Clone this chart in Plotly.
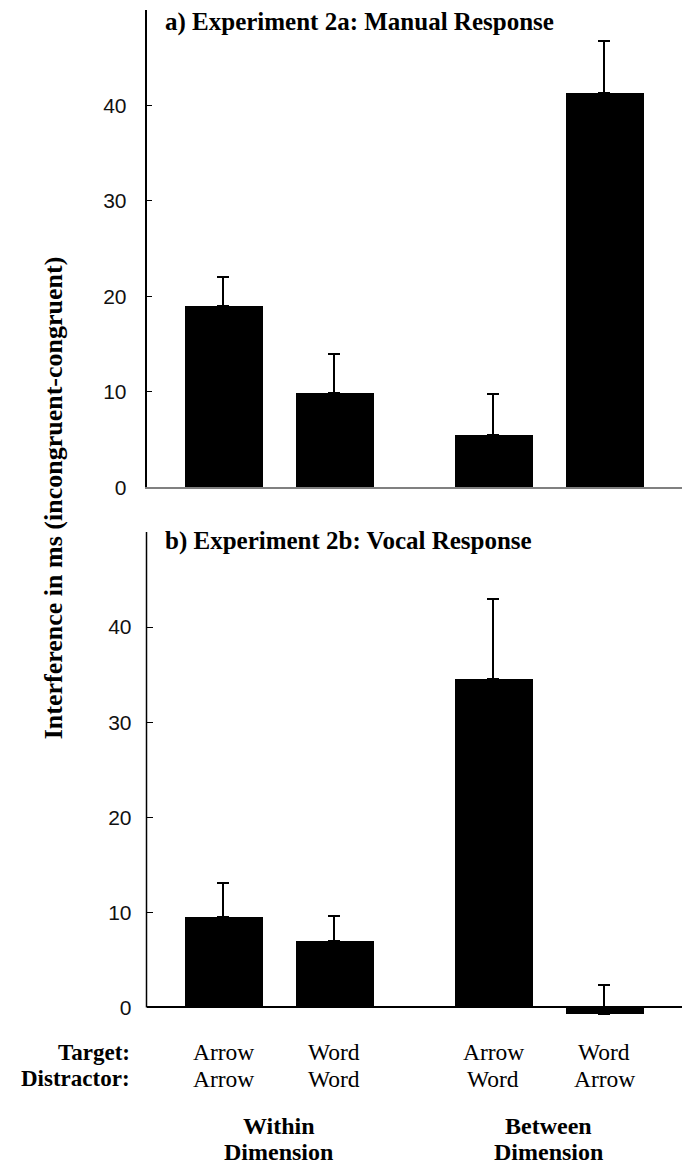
import plotly.graph_objects as go

# ---- data ----
targets = ["Arrow", "Word", "Arrow", "Word"]
distractors = ["Arrow", "Word", "Word", "Arrow"]
group_lines = [["Within", "Dimension"], ["Between", "Dimension"]]
manual_mean = [19.0, 9.9, 5.5, 41.3]
manual_err = [3.0, 4.1, 4.3, 5.4]
vocal_mean = [9.5, 7.0, 34.5, -0.7]
vocal_err = [3.6, 2.6, 8.4, 3.1]
y_ticks = [0, 10, 20, 30, 40]
title_a = "a) Experiment 2a: Manual Response"
title_b = "b) Experiment 2b: Vocal Response"
y_title = "Interference in ms (incongruent-congruent)"

# ---- layout helpers ----
W, H = 682, 1175
GAP = 1.43  # spacing between the two groups (in bar-slot units)
pos = [0, 1, 1 + GAP, 2 + GAP]
xr = [-0.69, 4.13]
SERIF = "Liberation Serif"
SANS = "Liberation Sans"


def py(p):
    return (H - p) / H


def px(p):
    return p / W


fig = go.Figure()
for mean, err, xa, ya in [(manual_mean, manual_err, "x", "y"),
                          (vocal_mean, vocal_err, "x2", "y2")]:
    fig.add_trace(go.Bar(
        x=pos, y=mean, width=0.70, xaxis=xa, yaxis=ya,
        marker=dict(color="black", line=dict(width=0)),
        error_y=dict(type="data", symmetric=False, array=err,
                     arrayminus=[0] * len(err), width=6, thickness=2,
                     color="black"),
        showlegend=False, hoverinfo="skip"))

tickfont = dict(family=SANS, size=21, color="#111")
common_y = dict(tickvals=y_ticks, ticks="inside", ticklen=6, tickwidth=1,
                tickcolor="black", showgrid=False, tickfont=tickfont,
                ticklabelstandoff=14)

fig.update_layout(
    width=W, height=H, margin=dict(l=0, r=0, t=0, b=0),
    paper_bgcolor="white", plot_bgcolor="white", bargap=0,
    xaxis=dict(domain=[px(146.5), 1], range=xr, anchor="y",
               showticklabels=False, ticks="", showgrid=False,
               zeroline=False, showline=True, linecolor="#808080",
               linewidth=1.5),
    yaxis=dict(domain=[py(492), py(10)], range=[0, 50], anchor="x",
               showline=True, linecolor="black", linewidth=1.5,
               zeroline=False, **common_y),
    xaxis2=dict(domain=[px(146.5), 1], range=xr, anchor="y2",
                showticklabels=False, ticks="", showgrid=False,
                zeroline=False, showline=False),
    yaxis2=dict(domain=[py(1026.6), py(537)], range=[-1, 50], anchor="x2",
                showline=False, zeroline=True, zerolinecolor="black",
                zerolinewidth=1.5, **common_y),
)

# left axis line of the lower panel (from 0 to 50 only)
fig.add_shape(type="line", xref="x2 domain", yref="y2", x0=0, x1=0,
              y0=0, y1=50, line=dict(color="black", width=1.5))

ann = []
ann.append(dict(text="<b>%s</b>" % title_a, x=px(163), y=py(22),
                xanchor="left", yanchor="middle",
                font=dict(family=SERIF, size=25, color="black")))
ann.append(dict(text="<b>%s</b>" % title_b, x=px(163), y=py(546),
                xanchor="left", yanchor="middle",
                font=dict(family=SERIF, size=25, color="black")))
ann.append(dict(text="<b>%s</b>" % y_title, x=px(53), y=py(503),
                textangle=-90, xanchor="center", yanchor="middle",
                font=dict(family=SERIF, size=26, color="black")))
ann.append(dict(text="<b>Target:</b>", x=px(132), y=py(1062),
                xanchor="right", yanchor="middle",
                font=dict(family=SERIF, size=23, color="black")))
ann.append(dict(text="<b>Distractor:</b>", x=px(132), y=py(1089),
                xanchor="right", yanchor="middle",
                font=dict(family=SERIF, size=23, color="black")))
for i, p in enumerate(pos):
    ann.append(dict(text=targets[i], x=p, xref="x2", y=py(1062),
                    yref="paper", xanchor="center", yanchor="middle",
                    font=dict(family=SERIF, size=23.5, color="black")))
    ann.append(dict(text=distractors[i], x=p, xref="x2", y=py(1089),
                    yref="paper", xanchor="center", yanchor="middle",
                    font=dict(family=SERIF, size=23.5, color="black")))
for g, lines in enumerate(group_lines):
    cx = (pos[2 * g] + pos[2 * g + 1]) / 2
    for j, line in enumerate(lines):
        ann.append(dict(text="<b>%s</b>" % line, x=cx, xref="x2",
                        y=py(1137 + 26 * j), yref="paper",
                        xanchor="center", yanchor="middle",
                        font=dict(family=SERIF, size=24, color="black")))
for a in ann:
    a.setdefault("xref", "paper")
    a.setdefault("yref", "paper")
    a["showarrow"] = False
fig.update_layout(annotations=ann)

fig.write_html("out.html",
               post_script="document.body.style.margin='0px';",
               config={"displayModeBar": False})
